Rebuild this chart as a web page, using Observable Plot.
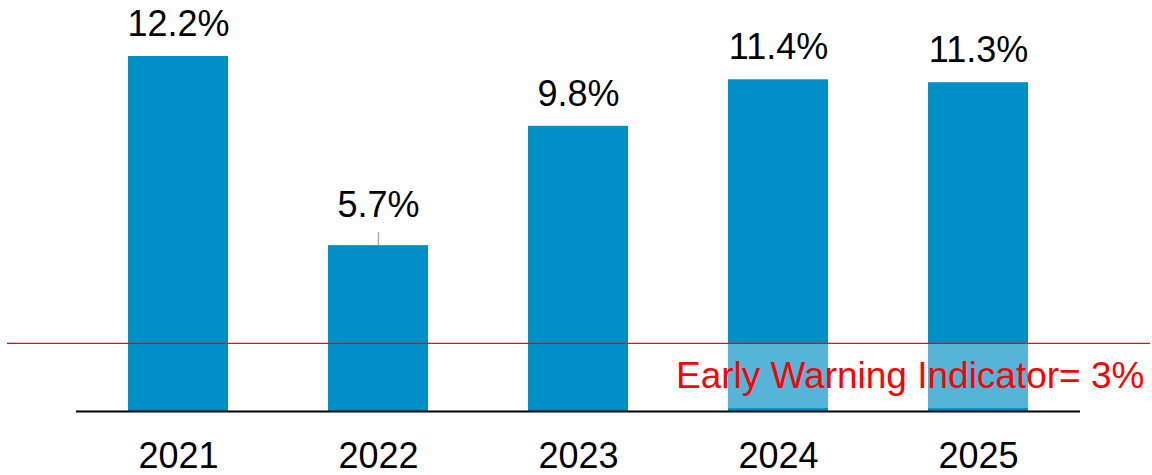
<!DOCTYPE html>
<html><head><meta charset="utf-8">
<script src="https://cdn.jsdelivr.net/npm/d3@7"></script>
<script src="https://cdn.jsdelivr.net/npm/@observablehq/plot@0.6"></script>
<style>body{margin:0;background:#fff}#chart{width:1152px;height:475px}</style>
</head><body><div id="chart"></div>
<script>
const years = ["2021","2022","2023","2024","2025"];
const values = [12.2, 5.7, 9.8, 11.4, 11.3];
const labels = ["12.2%","5.7%","9.8%","11.4%","11.3%"];
const thresholdPosition = 2.34;
const thresholdLabel = "Early Warning Indicator= 3%";
const boxYears = ["2024","2025"];
const boxRange = [0.1, 2.3];

const data = years.map((y,i)=>({year:y, value:values[i], label:labels[i]}));
const boxData = boxYears.map(y=>({year:y, y1:boxRange[0], y2:boxRange[1]}));
const font = "Liberation Sans, Arial, sans-serif";

const chart = Plot.plot({
  width:1152, height:475,
  marginLeft:76, marginRight:72, marginTop:56, marginBottom:64,
  style:{fontFamily:font, background:"#fff"},
  x:{domain:years, paddingInner:0.5, paddingOuter:0.25, axis:null},
  y:{domain:[0,12.2], axis:null},
  marks:[
    Plot.barY(data,{x:"year", y:"value", fill:"#0090c8"}),
    Plot.rectY(boxData,{x:"year", y1:"y1", y2:"y2", fill:"#57b4d9"}),
    Plot.ruleY([thresholdPosition],{stroke:"#ff0000", strokeWidth:1.2, insetLeft:-69, insetRight:-70}),
    Plot.ruleY([0],{stroke:"#000", strokeWidth:2}),
    Plot.ruleX(data.filter(d=>d.year==="2022"),{x:"year", y1:"value", y2:"value", insetBottom:13, stroke:"#aaa", strokeWidth:1.5}),
    Plot.text(data.filter(d=>d.year!=="2022"),{x:"year", y:"value", text:"label", dy:-32, fontSize:36, fill:"#000"}),
    Plot.text(data.filter(d=>d.year==="2022"),{x:"year", y:"value", text:"label", dy:-40, fontSize:36, fill:"#000"}),
    Plot.text(years,{x:d=>d, y:0, text:d=>d, dy:45, fontSize:36, fill:"#000"}),
    Plot.text([thresholdLabel],{x:()=>years[4], y:thresholdPosition, text:d=>d, textAnchor:"end", dx:166, dy:33, fontSize:37, fill:"#ff0000"})
  ]
});
document.getElementById("chart").appendChild(chart);
</script></body></html>
